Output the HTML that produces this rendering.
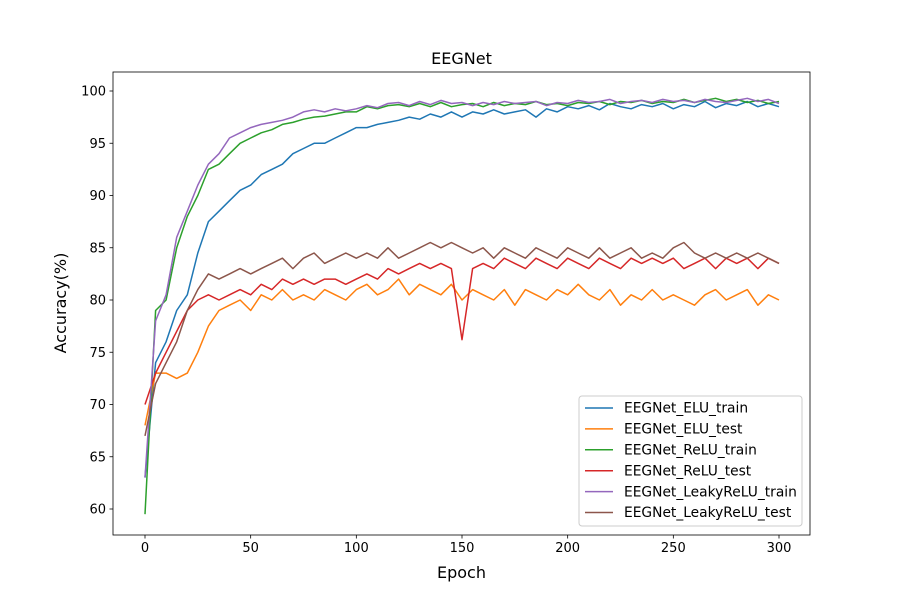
<!DOCTYPE html>
<html><head><meta charset="utf-8">
<style>
html,body{margin:0;padding:0;background:#fff;}
svg{display:block;font-family:"DejaVu Sans","Liberation Sans",sans-serif;}
</style></head>
<body>
<svg id="chart" width="900" height="600"></svg>
<script>
const epochs = Array.from({length:61},(_,i)=>i*5);
const seriesNames = ["EEGNet_ELU_train","EEGNet_ELU_test","EEGNet_ReLU_train","EEGNet_ReLU_test","EEGNet_LeakyReLU_train","EEGNet_LeakyReLU_test"];
const seriesColors = ["#1f77b4","#ff7f0e","#2ca02c","#d62728","#9467bd","#8c564b"];
const eluTrain = [63,74,76,79,80.5,84.5,87.5,88.5,89.5,90.5,91,92,92.5,93,94,94.5,95,95,95.5,96,96.5,96.5,96.8,97,97.2,97.5,97.3,97.8,97.5,98,97.5,98,97.8,98.2,97.8,98,98.2,97.5,98.3,98,98.5,98.3,98.6,98.2,98.8,98.5,98.3,98.7,98.5,98.8,98.3,98.7,98.5,99,98.4,98.8,98.6,99,98.5,98.8,98.5];
const eluTest = [68,73,73,72.5,73,75,77.5,79,79.5,80,79,80.5,80,81,80,80.5,80,81,80.5,80,81,81.5,80.5,81,82,80.5,81.5,81,80.5,81.5,80,81,80.5,80,81,79.5,81,80.5,80,81,80.5,81.5,80.5,80,81,79.5,80.5,80,81,80,80.5,80,79.5,80.5,81,80,80.5,81,79.5,80.5,80];
const reluTrain = [59.5,79,80,85,88,90,92.5,93,94,95,95.5,96,96.3,96.8,97,97.3,97.5,97.6,97.8,98,98,98.5,98.3,98.6,98.7,98.5,98.8,98.5,98.9,98.5,98.7,98.8,98.5,98.9,98.6,98.8,98.7,99,98.7,98.8,98.6,98.9,98.8,99,98.7,99,98.9,99.1,98.8,99,98.9,99.2,98.9,99.1,99.3,99,99.2,98.9,99.1,98.8,99];
const reluTest = [70,73,75,77,79,80,80.5,80,80.5,81,80.5,81.5,81,82,81.5,82,81.5,82,82,81.5,82,82.5,82,83,82.5,83,83.5,83,83.5,83,76.2,83,83.5,83,84,83.5,83,84,83.5,83,84,83.5,83,84,83.5,83,84,83.5,84,83.5,84,83,83.5,84,83,84,83.5,84,83,84,83.5];
const leakyTrain = [63,78,80.5,86,88.5,91,93,94,95.5,96,96.5,96.8,97,97.2,97.5,98,98.2,98,98.3,98.1,98.3,98.6,98.4,98.8,98.9,98.6,99,98.7,99.1,98.8,98.9,98.6,98.9,98.7,99,98.8,98.9,99,98.6,98.9,98.8,99.1,98.9,99,99.2,98.8,99,99.1,98.9,99.2,99,99.1,98.9,99.2,99,98.9,99.1,99.3,99,99.2,98.8];
const leakyTest = [67,72,74,76,79,81,82.5,82,82.5,83,82.5,83,83.5,84,83,84,84.5,83.5,84,84.5,84,84.5,84,85,84,84.5,85,85.5,85,85.5,85,84.5,85,84,85,84.5,84,85,84.5,84,85,84.5,84,85,84,84.5,85,84,84.5,84,85,85.5,84.5,84,84.5,84,84.5,84,84.5,84,83.5];
const seriesValues = [eluTrain,eluTest,reluTrain,reluTest,leakyTrain,leakyTest];
const xTicks = [0,50,100,150,200,250,300];
const yTicks = [60,65,70,75,80,85,90,95,100];

const NS="http://www.w3.org/2000/svg";
const svg=document.getElementById('chart');
const L=113,R=810,T=72,B=535;
const xScale=v=>145+(v/300)*634;
const yScale=v=>509-(v-60)*10.45;
function mk(tag,attrs,parent){const e=document.createElementNS(NS,tag);for(const k in attrs)e.setAttribute(k,attrs[k]);(parent||svg).appendChild(e);return e;}

const title=mk('text',{x:(L+R)/2,y:64,'text-anchor':'middle','font-size':16,fill:'#000'});
title.textContent='EEGNet';



seriesValues.forEach((vals,si)=>{
  const d=vals.map((v,i)=>(i?'L':'M')+xScale(epochs[i]).toFixed(1)+','+yScale(v).toFixed(1)).join(' ');
  const p=mk('path',{d:d,fill:'none',stroke:seriesColors[si],'stroke-width':1.5,'stroke-linejoin':'round'});
  
  
});

const frame=mk('rect',{x:L,y:T,width:R-L,height:B-T,fill:'none',stroke:'#000','stroke-width':0.8});



xTicks.forEach(t=>{
  const x=xScale(t);
  mk('line',{x1:x,x2:x,y1:B,y2:B+3.5,stroke:'#000','stroke-width':0.8});
  const tx=mk('text',{x:x,y:B+17,'text-anchor':'middle','font-size':13,fill:'#000'});
  tx.textContent=t;
  
  
});
yTicks.forEach(t=>{
  const y=yScale(t);
  mk('line',{x1:L-3.5,x2:L,y1:y,y2:y,stroke:'#000','stroke-width':0.8});
  const tx=mk('text',{x:L-7,y:y+4.5,'text-anchor':'end','font-size':13,fill:'#000'});
  tx.textContent=t;
  
  
});
const xl=mk('text',{x:(L+R)/2,y:578,'text-anchor':'middle','font-size':16,fill:'#000'});
xl.textContent='Epoch';


const yl=mk('text',{x:0,y:0,'text-anchor':'middle','font-size':16,fill:'#000',transform:'translate(66,303) rotate(-90)'});
yl.textContent='Accuracy(%)';



const lg=mk('g',{});


mk('rect',{x:579,y:396,width:223,height:130,rx:3,fill:'#fff','fill-opacity':0.8,stroke:'#ccc','stroke-width':1},lg);
seriesNames.forEach((n,i)=>{
  const y=408+i*20.9;
  const g=mk('g',{},lg);
  
  
  mk('line',{x1:585,x2:613,y1:y,y2:y,stroke:seriesColors[i],'stroke-width':1.5},g);
  const t=mk('text',{x:624,y:y+4.7,'font-size':13.8,fill:'#000'},g);
  t.textContent=n;
});
</script>
</body></html>
